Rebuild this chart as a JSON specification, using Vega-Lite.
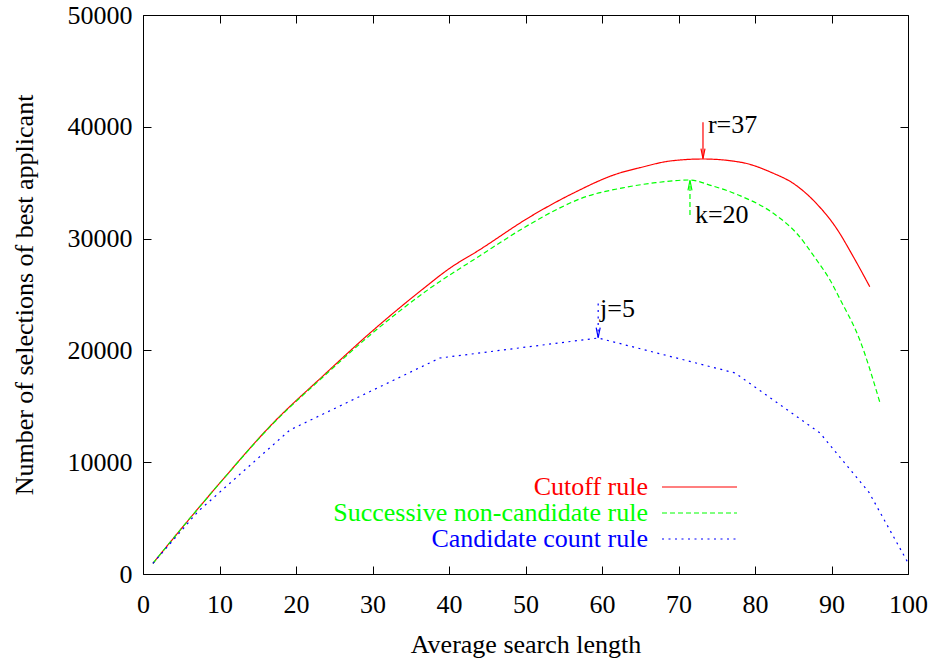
{
  "$schema": "https://vega.github.io/schema/vega-lite/v6.json",
  "autosize": "none",
  "width": 765,
  "height": 559,
  "padding": {"left": 143, "top": 15, "right": 23, "bottom": 86},
  "background": "white",
  "config": {
    "view": {"stroke": "black", "strokeWidth": 1},
    "font": "Liberation Serif",
    "axis": {
      "grid": false,
      "domain": false,
      "tickColor": "black",
      "tickSize": -8,
      "tickWidth": 1,
      "labelFlush": false,
      "labelFont": "Liberation Serif",
      "labelFontSize": 26,
      "labelColor": "black",
      "titleFont": "Liberation Serif",
      "titleFontSize": 26,
      "titleFontWeight": "normal",
      "titleColor": "black"
    },
    "legend": {
      "orient": "none",
      "legendX": 543.5,
      "legendY": 459,
      "title": null,
      "padding": 0,
      "rowPadding": 0,
      "symbolType": "M-7.5,0L7.5,0",
      "symbolSize": 100,
      "symbolStrokeWidth": 1.2,
      "labelFont": "Liberation Serif",
      "labelFontSize": 26,
      "labelAlign": "right",
      "labelBaseline": "middle",
      "labelOffset": -64.5,
      "labelLimit": 0
    }
  },
  "datasets": {
    "curves": [
      {"series": "Cutoff rule", "x": 1.3, "y": 950},
      {"series": "Cutoff rule", "x": 5, "y": 4050},
      {"series": "Cutoff rule", "x": 10, "y": 8100},
      {"series": "Cutoff rule", "x": 17, "y": 13500},
      {"series": "Cutoff rule", "x": 23.5, "y": 17700},
      {"series": "Cutoff rule", "x": 30, "y": 21750},
      {"series": "Cutoff rule", "x": 36.6, "y": 25500},
      {"series": "Cutoff rule", "x": 40, "y": 27300},
      {"series": "Cutoff rule", "x": 44, "y": 29000},
      {"series": "Cutoff rule", "x": 50.6, "y": 31950},
      {"series": "Cutoff rule", "x": 56.2, "y": 34050},
      {"series": "Cutoff rule", "x": 62, "y": 35800},
      {"series": "Cutoff rule", "x": 65, "y": 36350},
      {"series": "Cutoff rule", "x": 68.9, "y": 36940},
      {"series": "Cutoff rule", "x": 73.2, "y": 37120},
      {"series": "Cutoff rule", "x": 78.2, "y": 36820},
      {"series": "Cutoff rule", "x": 82.4, "y": 35840},
      {"series": "Cutoff rule", "x": 85, "y": 34940},
      {"series": "Cutoff rule", "x": 88, "y": 33160},
      {"series": "Cutoff rule", "x": 90.65, "y": 30920},
      {"series": "Cutoff rule", "x": 92.85, "y": 28380},
      {"series": "Cutoff rule", "x": 95, "y": 25700},
      {"series": "Successive non-candidate rule", "x": 1.3, "y": 950},
      {"series": "Successive non-candidate rule", "x": 5, "y": 4050},
      {"series": "Successive non-candidate rule", "x": 10, "y": 8100},
      {"series": "Successive non-candidate rule", "x": 17, "y": 13450},
      {"series": "Successive non-candidate rule", "x": 23.5, "y": 17600},
      {"series": "Successive non-candidate rule", "x": 30, "y": 21550},
      {"series": "Successive non-candidate rule", "x": 37.3, "y": 25450},
      {"series": "Successive non-candidate rule", "x": 44, "y": 28450},
      {"series": "Successive non-candidate rule", "x": 50.6, "y": 31300},
      {"series": "Successive non-candidate rule", "x": 54.5, "y": 32750},
      {"series": "Successive non-candidate rule", "x": 57.1, "y": 33550},
      {"series": "Successive non-candidate rule", "x": 63.2, "y": 34600},
      {"series": "Successive non-candidate rule", "x": 67, "y": 35000},
      {"series": "Successive non-candidate rule", "x": 71.4, "y": 35240},
      {"series": "Successive non-candidate rule", "x": 74.5, "y": 34700},
      {"series": "Successive non-candidate rule", "x": 78, "y": 33850},
      {"series": "Successive non-candidate rule", "x": 82.4, "y": 32260},
      {"series": "Successive non-candidate rule", "x": 85.45, "y": 30470},
      {"series": "Successive non-candidate rule", "x": 88.05, "y": 28090},
      {"series": "Successive non-candidate rule", "x": 89.8, "y": 26300},
      {"series": "Successive non-candidate rule", "x": 91.1, "y": 24600},
      {"series": "Successive non-candidate rule", "x": 93.7, "y": 20930},
      {"series": "Successive non-candidate rule", "x": 96.3, "y": 15400},
      {"series": "Candidate count rule", "x": 1.3, "y": 950},
      {"series": "Candidate count rule", "x": 7.2, "y": 5600},
      {"series": "Candidate count rule", "x": 19.2, "y": 12880},
      {"series": "Candidate count rule", "x": 38.8, "y": 19320},
      {"series": "Candidate count rule", "x": 59.5, "y": 21110},
      {"series": "Candidate count rule", "x": 77.4, "y": 17980},
      {"series": "Candidate count rule", "x": 88.5, "y": 12610},
      {"series": "Candidate count rule", "x": 94.9, "y": 7300},
      {"series": "Candidate count rule", "x": 100, "y": 1000}
    ],
    "notes": [
      {"label": "r=37", "series": "Cutoff rule", "x": 73.2, "ystart": 40400, "yend": 37150, "tx": 73.85, "ty": 39450},
      {"label": "k=20", "series": "Successive non-candidate rule", "x": 71.5, "ystart": 32100, "yend": 35200, "tx": 72.15, "ty": 31370},
      {"label": "j=5", "series": "Candidate count rule", "x": 59.5, "ystart": 24200, "yend": 21150, "tx": 59.75, "ty": 22990}
    ]
  },
  "resolve": {"axis": {"x": "independent", "y": "independent"}},
  "layer": [
    {
      "data": {"name": "curves"},
      "transform": [{"filter": "datum.series != 'Candidate count rule'"}],
      "mark": {"type": "line", "strokeWidth": 1.2, "interpolate": "monotone"},
      "encoding": {
        "x": {"field": "x", "type": "quantitative", "scale": {"domain": [0, 100], "nice": false, "zero": false},
          "axis": {"orient": "bottom", "values": [0,10,20,30,40,50,60,70,80,90,100], "labelPadding": 25, "title": "Average search length", "titleY": 78, "titleBaseline": "alphabetic"}},
        "y": {"field": "y", "type": "quantitative", "scale": {"domain": [0, 50000], "nice": false, "zero": false},
          "axis": {"orient": "left", "values": [0,10000,20000,30000,40000,50000], "format": "d", "labelPadding": 19, "title": "Number of selections of best applicant", "titleX": -111, "titleY": 279.5, "titleAngle": 270, "titleBaseline": "alphabetic", "titleAlign": "center"}},
        "color": {"field": "series", "type": "nominal",
          "scale": {"domain": ["Cutoff rule", "Successive non-candidate rule", "Candidate count rule"], "range": ["#ff0000", "#00ff00", "#0000ff"]},
          "legend": {"encode": {"labels": {"update": {"fill": {"scale": "color", "field": "value"}}}}}},
        "strokeDash": {"field": "series", "type": "nominal",
          "scale": {"domain": ["Cutoff rule", "Successive non-candidate rule", "Candidate count rule"], "range": [[1, 0], [5, 3], [2, 4.5]]}}
      }
    },
    {
      "data": {"name": "curves"},
      "transform": [{"filter": "datum.series == 'Candidate count rule'"}],
      "mark": {"type": "line", "strokeWidth": 1.2},
      "encoding": {
        "x": {"field": "x", "type": "quantitative", "scale": {"domain": [0, 100], "nice": false, "zero": false}, "axis": null},
        "y": {"field": "y", "type": "quantitative", "scale": {"domain": [0, 50000], "nice": false, "zero": false}, "axis": null},
        "color": {"field": "series", "type": "nominal"},
        "strokeDash": {"field": "series", "type": "nominal"}
      }
    },
    {
      "data": {"name": "notes"},
      "mark": {"type": "rule", "strokeWidth": 1.2},
      "encoding": {
        "x": {"field": "x", "type": "quantitative", "scale": {"domain": [0, 100], "nice": false, "zero": false}, "axis": null},
        "y": {"field": "ystart", "type": "quantitative", "scale": {"domain": [0, 50000], "nice": false, "zero": false}, "axis": null},
        "y2": {"field": "yend"},
        "color": {"field": "series", "type": "nominal", "legend": null},
        "strokeDash": {"field": "series", "type": "nominal", "legend": null}
      }
    },
    {
      "data": {"name": "notes"},
      "transform": [{"filter": "datum.label != 'k=20'"}],
      "mark": {"type": "point", "shape": "M-0.4,-2L0,0L0.4,-2", "filled": false, "size": 100, "strokeWidth": 1.2, "opacity": 1},
      "encoding": {
        "x": {"field": "x", "type": "quantitative", "scale": {"domain": [0, 100], "nice": false, "zero": false}, "axis": null},
        "y": {"field": "yend", "type": "quantitative", "scale": {"domain": [0, 50000], "nice": false, "zero": false}, "axis": null},
        "color": {"field": "series", "type": "nominal", "legend": null}
      }
    },
    {
      "data": {"name": "notes"},
      "transform": [{"filter": "datum.label == 'k=20'"}],
      "mark": {"type": "point", "shape": "M-0.4,2L0,0L0.4,2", "filled": false, "size": 100, "strokeWidth": 1.2, "opacity": 1},
      "encoding": {
        "x": {"field": "x", "type": "quantitative", "scale": {"domain": [0, 100], "nice": false, "zero": false}, "axis": null},
        "y": {"field": "yend", "type": "quantitative", "scale": {"domain": [0, 50000], "nice": false, "zero": false}, "axis": null},
        "color": {"field": "series", "type": "nominal", "legend": null}
      }
    },
    {
      "data": {"name": "notes"},
      "mark": {"type": "text", "align": "left", "baseline": "alphabetic", "font": "Liberation Serif", "fontSize": 26, "color": "black"},
      "encoding": {
        "x": {"field": "tx", "type": "quantitative", "scale": {"domain": [0, 100], "nice": false, "zero": false},
          "axis": {"orient": "top", "values": [0,10,20,30,40,50,60,70,80,90,100], "labels": false, "title": null}},
        "y": {"field": "ty", "type": "quantitative", "scale": {"domain": [0, 50000], "nice": false, "zero": false},
          "axis": {"orient": "right", "values": [0,10000,20000,30000,40000,50000], "labels": false, "title": null}},
        "text": {"field": "label"}
      }
    }
  ]
}
